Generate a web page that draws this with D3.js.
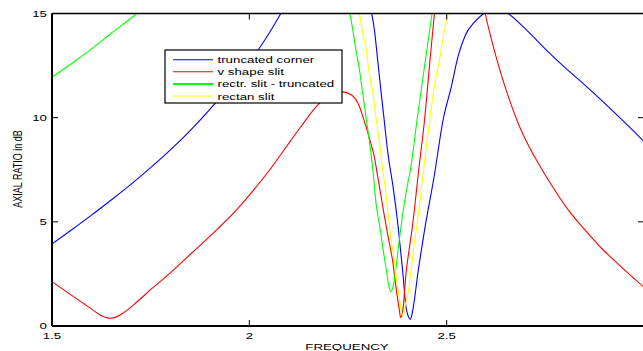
<!DOCTYPE html>
<html>
<head>
<meta charset="utf-8">
<script src="https://cdn.jsdelivr.net/npm/d3@7"></script>
<style>
  html, body { margin: 0; padding: 0; background: #fff; }
  svg { display: block; }
  text { font-family: "Liberation Sans", Arial, sans-serif; fill: #000; }
</style>
</head>
<body>
<svg id="chart" width="643" height="351"></svg>
<script>
// ---------- data ----------
const xTicks = [1.5, 2, 2.5, 3];
const xTickLabels = ["1.5", "2", "2.5", ""];
const yTicks = [0, 5, 10, 15];
const yTickLabels = ["0", "5", "10", "15"];

const seriesNames = ["truncated corner", "v shape slit", "rectr. slit - truncated", "rectan slit"];
const seriesColors = ["#0000ff", "#ff0000", "#00ff00", "#ffff00"];

const freqBlue = [1.5, 1.55, 1.6, 1.65, 1.7, 1.75, 1.8, 1.85, 1.9, 1.95, 2.0, 2.04, 2.08, 2.12, 2.2, 2.27, 2.3,
  2.31, 2.317, 2.325, 2.334, 2.341, 2.351, 2.364, 2.378, 2.389, 2.397, 2.403, 2.408, 2.412, 2.417, 2.427, 2.436, 2.444,
  2.469, 2.491, 2.512, 2.529, 2.546, 2.571, 2.594, 2.62, 2.64, 2.656, 2.70, 2.758, 2.80, 2.851, 2.90, 2.936, 3.0];
const arBlue = [3.94, 4.62, 5.32, 6.05, 6.8, 7.6, 8.45, 9.38, 10.4, 11.5, 12.65, 13.75, 15.0, 16.3, 19, 18, 15.8,
  15.0, 14.2, 12.8, 11.2, 10.0, 8.3, 6.7, 4.6, 2.55, 0.9, 0.45, 0.32, 0.55, 1.09, 2.53, 3.65, 4.6,
  7.26, 9.9, 11.5, 12.95, 13.9, 14.6, 15.0, 15.3, 15.2, 15.0, 14.25, 13.15, 12.4, 11.55, 10.7, 10.05, 8.86];

const freqRed = [1.5, 1.55, 1.6, 1.622, 1.647, 1.665, 1.681, 1.715, 1.749, 1.8, 1.834, 1.88, 1.919, 1.97, 2.003, 2.05, 2.088,
  2.13, 2.173, 2.2, 2.232, 2.258, 2.279, 2.291, 2.30, 2.308, 2.317, 2.325, 2.334, 2.342, 2.349, 2.364, 2.372, 2.381, 2.383,
  2.389, 2.397, 2.406, 2.412, 2.431, 2.444, 2.457, 2.469, 2.48, 2.54, 2.59, 2.598, 2.611, 2.624, 2.641, 2.662, 2.683,
  2.709, 2.734, 2.758, 2.809, 2.851, 2.893, 2.936, 3.0];
const arRed = [2.13, 1.47, 0.82, 0.53, 0.37, 0.45, 0.63, 1.15, 1.73, 2.55, 3.15, 3.95, 4.65, 5.62, 6.35, 7.45, 8.45,
  9.55, 10.6, 11.05, 11.25, 11.1, 10.54, 9.85, 9.3, 8.75, 8.1, 7.2, 6.2, 5.3, 4.55, 3.0, 1.8, 0.65, 0.4,
  0.77, 2.53, 3.81, 4.6, 7.8, 9.9, 12.6, 15.0, 17, 20, 16, 15.0, 13.95, 13.0, 11.9, 10.7, 9.65,
  8.6, 7.75, 7.0, 5.55, 4.6, 3.72, 2.95, 1.86];

const freqGreen = [1.5, 1.55, 1.6, 1.65, 1.715, 1.75, 1.9, 2.1, 2.24, 2.255, 2.262, 2.270, 2.279, 2.287, 2.296, 2.313,
  2.321, 2.332, 2.338, 2.347, 2.355, 2.359, 2.364, 2.372, 2.380, 2.389, 2.397, 2.403, 2.406, 2.425, 2.444, 2.463, 2.48];
const arGreen = [11.94, 12.6, 13.3, 14.05, 15.0, 15.6, 18, 19, 16.5, 15.0, 14.23, 13.27, 12.3, 11.19, 9.99, 7.5,
  5.9, 4.6, 3.8, 2.7, 1.81, 1.65, 1.89, 2.85, 4.13, 5.42, 6.38, 7.0, 7.26, 9.9, 12.47, 15.0, 17];

const freqYellow = [2.26, 2.279, 2.286, 2.296, 2.304, 2.313, 2.321, 2.33, 2.338, 2.347, 2.355, 2.368, 2.378, 2.385,
  2.389, 2.395, 2.402, 2.410, 2.418, 2.423, 2.44, 2.457, 2.469, 2.482, 2.495, 2.504, 2.52];
const arYellow = [17, 15.0, 14.2, 13.3, 12.1, 11.2, 10.0, 8.8, 7.5, 6.2, 4.8, 3.0, 1.57, 0.77,
  0.48, 1.0, 1.57, 2.7, 3.97, 4.6, 7.26, 9.9, 11.5, 12.8, 14.23, 15.0, 17];

const xLabel = "FREQUENCY";
const yLabel = "AXIAL RATIO in dB";

// ---------- drawing ----------
const svg = d3.select("#chart");
const pLeft = 52, pRight = 644, pTop = 13.5, pBottom = 326;
const SX = 1.4; // horizontal stretch of the text in the reference
const FS = 9.5;

const x = d3.scaleLinear().domain([1.5, 3.0]).range([pLeft, pRight]);
const y = d3.scaleLinear().domain([0, 15]).range([pBottom, pTop]);

svg.append("rect").attr("width", 643).attr("height", 351).attr("fill", "#fff");

svg.append("defs").append("clipPath").attr("id", "plotclip")
  .append("rect").attr("x", pLeft).attr("y", pTop).attr("width", pRight - pLeft).attr("height", pBottom - pTop);

const series = [
  { f: freqBlue, v: arBlue },
  { f: freqRed, v: arRed },
  { f: freqGreen, v: arGreen },
  { f: freqYellow, v: arYellow }
];

const line = d3.line()
  .x(d => x(d[0]))
  .y(d => y(d[1]))
  .curve(d3.curveMonotoneX);

const gLines = svg.append("g").attr("clip-path", "url(#plotclip)");
series.forEach((s, i) => {
  const pts = s.f.map((f, k) => [f, s.v[k]]);
  gLines.append("path")
    .attr("d", line(pts))
    .attr("fill", "none")
    .attr("stroke", seriesColors[i])
    .attr("stroke-width", 1.1);
});

// axes box
const axisG = svg.append("g");
axisG.append("line").attr("x1", pLeft).attr("x2", pRight).attr("y1", pTop).attr("y2", pTop)
  .attr("stroke", "#000").attr("stroke-width", 1.5);
axisG.append("line").attr("x1", pLeft).attr("x2", pRight).attr("y1", pBottom).attr("y2", pBottom)
  .attr("stroke", "#000").attr("stroke-width", 2);
axisG.append("line").attr("x1", pLeft).attr("x2", pLeft).attr("y1", pTop).attr("y2", pBottom)
  .attr("stroke", "#000").attr("stroke-width", 2);
axisG.append("line").attr("x1", pRight).attr("x2", pRight).attr("y1", pTop).attr("y2", pBottom)
  .attr("stroke", "#000").attr("stroke-width", 1.5);

const TL = 6;
// x ticks (bottom and top, pointing inward)
xTicks.forEach((t, i) => {
  axisG.append("line").attr("x1", x(t)).attr("x2", x(t)).attr("y1", pBottom).attr("y2", pBottom - TL)
    .attr("stroke", "#000").attr("stroke-width", 1);
  axisG.append("line").attr("x1", x(t)).attr("x2", x(t)).attr("y1", pTop).attr("y2", pTop + TL)
    .attr("stroke", "#000").attr("stroke-width", 1);
  if (xTickLabels[i]) {
    axisG.append("text")
      .attr("transform", `translate(${x(t)},338.5) scale(${SX},1)`)
      .attr("text-anchor", "middle")
      .attr("font-size", FS)
      .text(xTickLabels[i]);
  }
});
// y ticks (left and right, pointing inward)
yTicks.forEach((t, i) => {
  axisG.append("line").attr("x1", pLeft).attr("x2", pLeft + TL).attr("y1", y(t)).attr("y2", y(t))
    .attr("stroke", "#000").attr("stroke-width", 1);
  axisG.append("line").attr("x1", pRight).attr("x2", pRight - TL).attr("y1", y(t)).attr("y2", y(t))
    .attr("stroke", "#000").attr("stroke-width", 1);
  axisG.append("text")
    .attr("transform", `translate(47,${y(t) + 3.4}) scale(${SX},1)`)
    .attr("text-anchor", "end")
    .attr("font-size", FS)
    .text(yTickLabels[i]);
});

// axis titles
svg.append("text")
  .attr("transform", `translate(347,350) scale(${SX},1)`)
  .attr("text-anchor", "middle")
  .attr("font-size", FS)
  .text(xLabel);
svg.append("text")
  .attr("transform", `translate(21.5,169) rotate(-90) scale(1,${SX})`)
  .attr("text-anchor", "middle")
  .attr("font-size", 9)
  .text(yLabel);

// legend
const lg = svg.append("g");
lg.append("rect").attr("x", 165).attr("y", 50).attr("width", 177).attr("height", 53)
  .attr("fill", "#fff").attr("stroke", "#000").attr("stroke-width", 1.2);
seriesNames.forEach((name, i) => {
  const ry = 59.7 + i * 12.1;
  lg.append("line").attr("x1", 173).attr("x2", 213).attr("y1", ry).attr("y2", ry)
    .attr("stroke", seriesColors[i]).attr("stroke-width", i === 2 ? 2 : 1.1);
  lg.append("text")
    .attr("transform", `translate(217.5,${ry + 3.5}) scale(${SX},1)`)
    .attr("font-size", FS)
    .text(name);
});
</script>
</body>
</html>
